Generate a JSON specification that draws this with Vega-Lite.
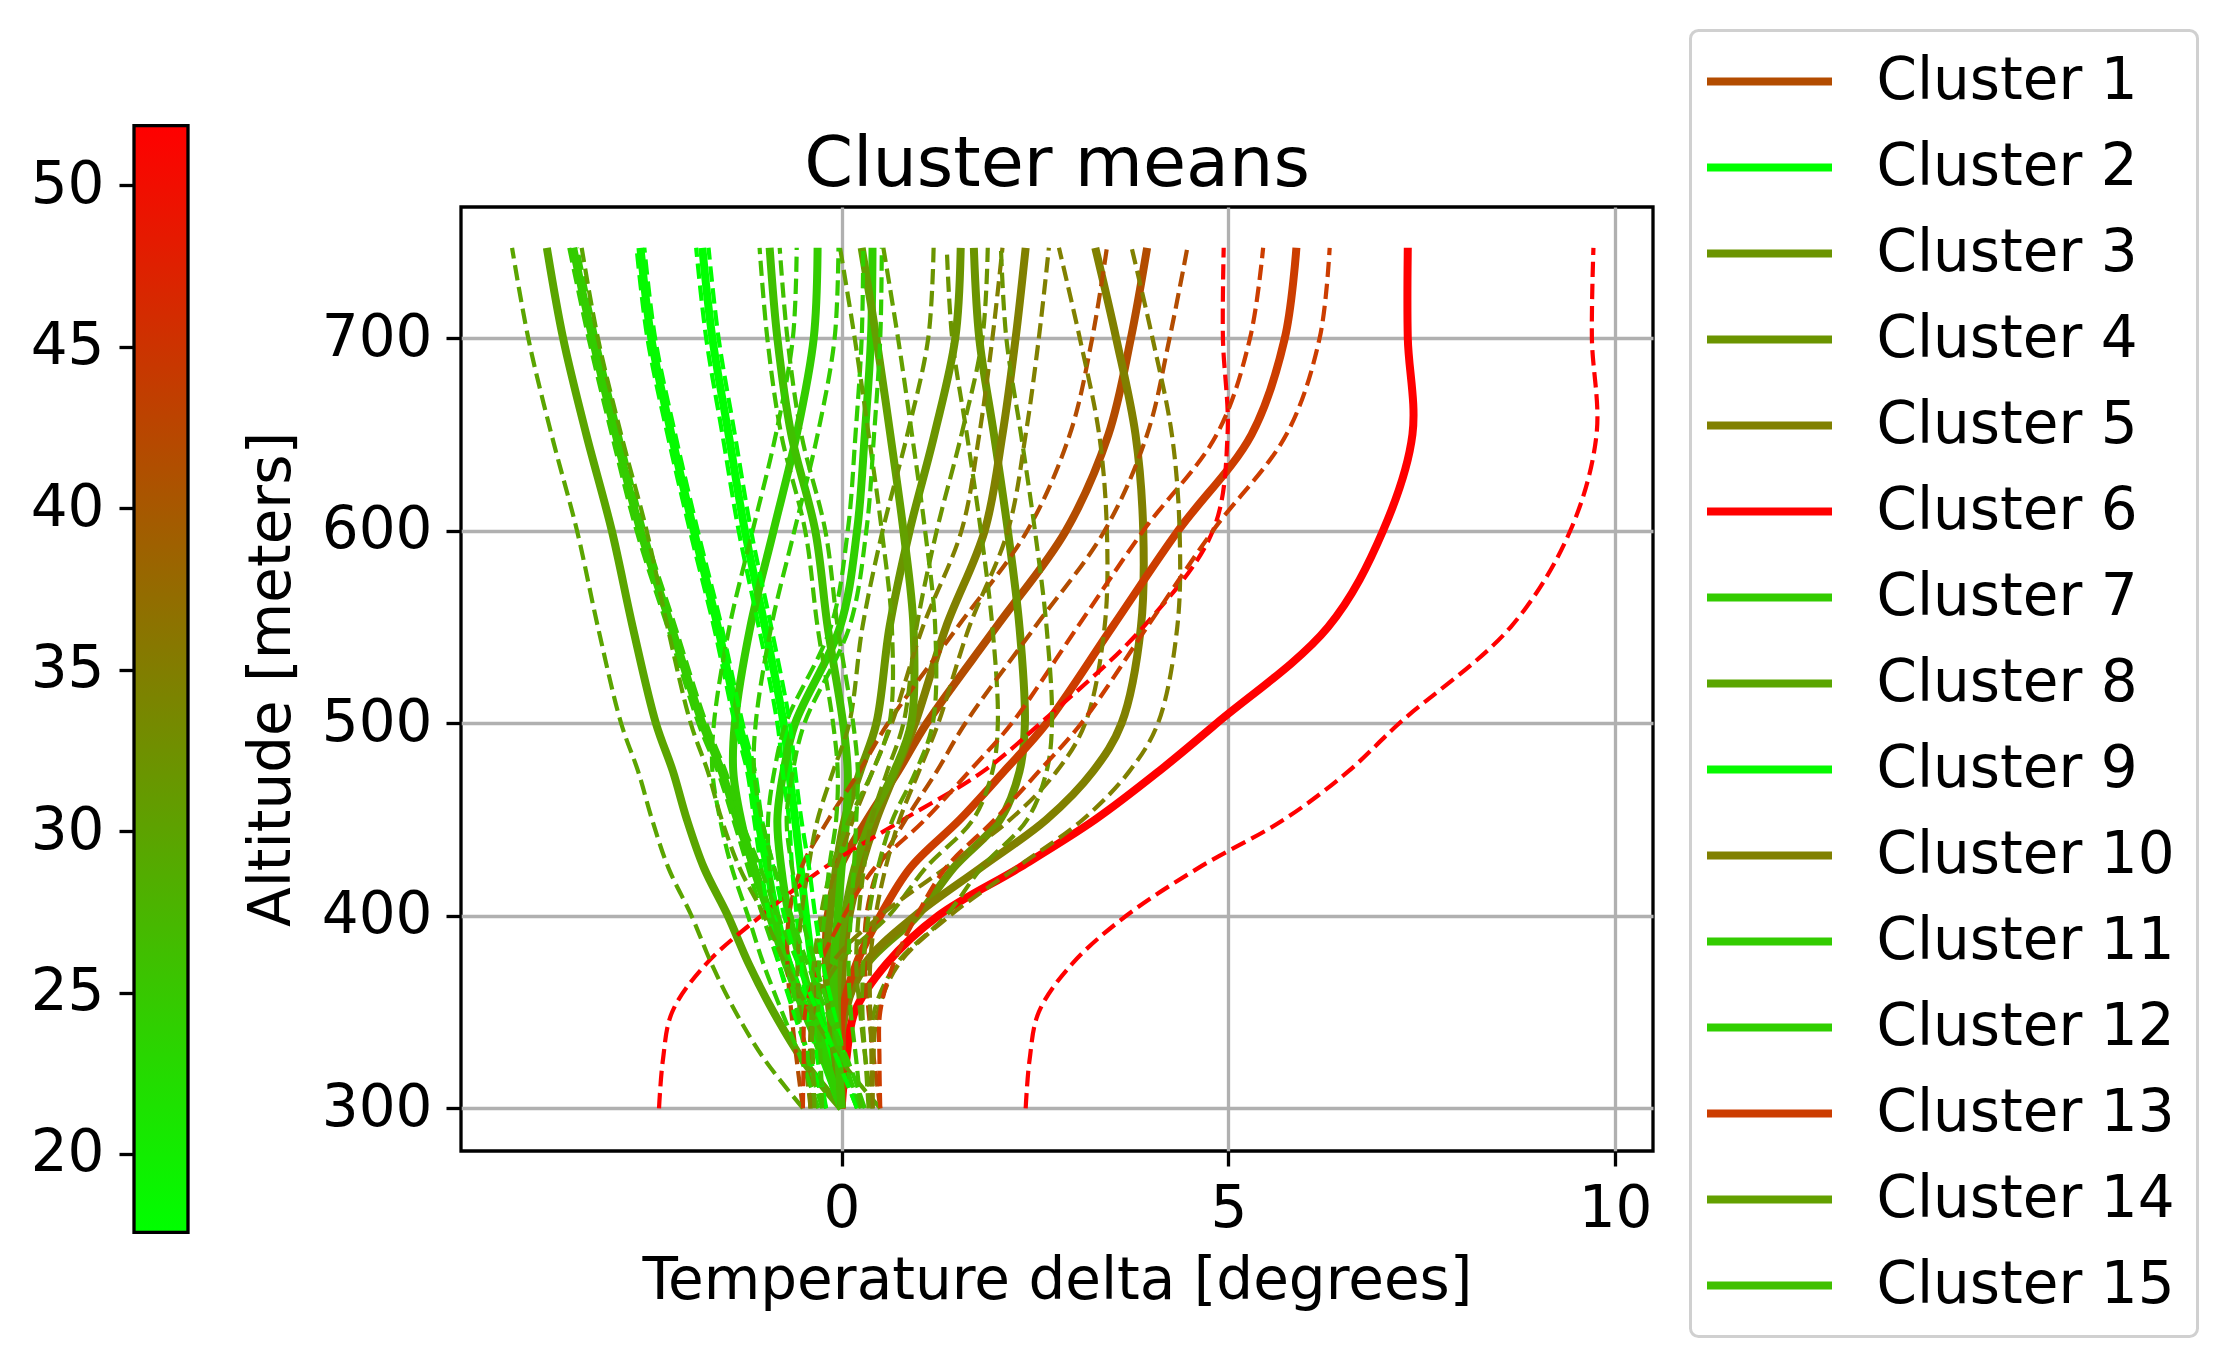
{
  "$schema": "https://vega.github.io/schema/vega-lite/v6.json",
  "padding": {"left": 30, "top": 29, "right": 20, "bottom": 20},
  "config": {
    "font": "DejaVu Sans",
    "view": {"stroke": null},
    "legend": {"strokeWidth": 3},
    "axis": {
      "labelFont": "DejaVu Sans", "titleFont": "DejaVu Sans",
      "labelFontSize": 58, "titleFontSize": 58, "titleFontWeight": "normal",
      "labelColor": "#000", "titleColor": "#000",
      "tickColor": "#000", "tickWidth": 3.3, "tickSize": 15,
      "domain": false, "gridColor": "#b0b0b0", "gridWidth": 3.3, "gridOpacity": 1,
      "labelOverlap": false, "labelFlush": false, "labelBound": false
    }
  },
  "datasets": {
    "profiles": [
      {"c":"Cluster 1","a":300,"m":0,"lo":-0.5,"hi":0.5},{"c":"Cluster 1","a":325,"m":-0.08,"lo":-0.58,"hi":0.42},{"c":"Cluster 1","a":350,"m":-0.15,"lo":-0.65,"hi":0.35},{"c":"Cluster 1","a":375,"m":-0.2,"lo":-0.7,"hi":0.3},{"c":"Cluster 1","a":400,"m":-0.18,"lo":-0.68,"hi":0.32},{"c":"Cluster 1","a":425,"m":-0.02,"lo":-0.52,"hi":0.48},{"c":"Cluster 1","a":450,"m":0.33,"lo":-0.17,"hi":0.83},{"c":"Cluster 1","a":475,"m":0.73,"lo":0.23,"hi":1.23},{"c":"Cluster 1","a":500,"m":1.1,"lo":0.6,"hi":1.6},{"c":"Cluster 1","a":550,"m":2.0,"lo":1.5,"hi":2.5},{"c":"Cluster 1","a":600,"m":2.9,"lo":2.4,"hi":3.4},{"c":"Cluster 1","a":650,"m":3.45,"lo":2.95,"hi":3.95},{"c":"Cluster 1","a":700,"m":3.74,"lo":3.24,"hi":4.24},{"c":"Cluster 1","a":747,"m":3.95,"lo":3.43,"hi":4.47},
      {"c":"Cluster 2","a":300,"m":0,"lo":-0.2,"hi":0.2},{"c":"Cluster 2","a":325,"m":-0.13,"lo":-0.31,"hi":0.05},{"c":"Cluster 2","a":350,"m":-0.27,"lo":-0.44,"hi":-0.1},{"c":"Cluster 2","a":375,"m":-0.38,"lo":-0.52,"hi":-0.24},{"c":"Cluster 2","a":400,"m":-0.46,"lo":-0.58,"hi":-0.34},{"c":"Cluster 2","a":425,"m":-0.53,"lo":-0.64,"hi":-0.42},{"c":"Cluster 2","a":450,"m":-0.6,"lo":-0.68,"hi":-0.52},{"c":"Cluster 2","a":475,"m":-0.68,"lo":-0.76,"hi":-0.6},{"c":"Cluster 2","a":500,"m":-0.75,"lo":-0.83,"hi":-0.67},{"c":"Cluster 2","a":550,"m":-0.99,"lo":-1.07,"hi":-0.91},{"c":"Cluster 2","a":600,"m":-1.25,"lo":-1.33,"hi":-1.17},{"c":"Cluster 2","a":650,"m":-1.46,"lo":-1.54,"hi":-1.38},{"c":"Cluster 2","a":700,"m":-1.67,"lo":-1.75,"hi":-1.59},{"c":"Cluster 2","a":747,"m":-1.8,"lo":-1.88,"hi":-1.72},
      {"c":"Cluster 3","a":300,"m":0,"lo":-0.4,"hi":0.4},{"c":"Cluster 3","a":325,"m":0,"lo":-0.39,"hi":0.39},{"c":"Cluster 3","a":350,"m":0.03,"lo":-0.36,"hi":0.42},{"c":"Cluster 3","a":375,"m":0.33,"lo":-0.05,"hi":0.71},{"c":"Cluster 3","a":400,"m":0.98,"lo":0.61,"hi":1.35},{"c":"Cluster 3","a":425,"m":1.45,"lo":1.09,"hi":1.81},{"c":"Cluster 3","a":450,"m":2.05,"lo":1.7,"hi":2.4},{"c":"Cluster 3","a":475,"m":2.3,"lo":1.95,"hi":2.65},{"c":"Cluster 3","a":500,"m":2.37,"lo":2.02,"hi":2.72},{"c":"Cluster 3","a":550,"m":2.3,"lo":1.95,"hi":2.65},{"c":"Cluster 3","a":600,"m":2.15,"lo":1.8,"hi":2.5},{"c":"Cluster 3","a":650,"m":1.97,"lo":1.62,"hi":2.32},{"c":"Cluster 3","a":700,"m":1.78,"lo":1.43,"hi":2.13},{"c":"Cluster 3","a":747,"m":1.71,"lo":1.36,"hi":2.06},
      {"c":"Cluster 4","a":300,"m":0,"lo":-0.4,"hi":0.4},{"c":"Cluster 4","a":325,"m":-0.08,"lo":-0.47,"hi":0.31},{"c":"Cluster 4","a":350,"m":-0.15,"lo":-0.54,"hi":0.24},{"c":"Cluster 4","a":375,"m":-0.19,"lo":-0.57,"hi":0.19},{"c":"Cluster 4","a":400,"m":-0.15,"lo":-0.52,"hi":0.22},{"c":"Cluster 4","a":425,"m":-0.07,"lo":-0.43,"hi":0.29},{"c":"Cluster 4","a":450,"m":0.04,"lo":-0.31,"hi":0.39},{"c":"Cluster 4","a":475,"m":0.24,"lo":-0.11,"hi":0.59},{"c":"Cluster 4","a":500,"m":0.45,"lo":0.1,"hi":0.8},{"c":"Cluster 4","a":550,"m":0.62,"lo":0.27,"hi":0.97},{"c":"Cluster 4","a":600,"m":0.88,"lo":0.53,"hi":1.23},{"c":"Cluster 4","a":650,"m":1.2,"lo":0.85,"hi":1.55},{"c":"Cluster 4","a":700,"m":1.47,"lo":1.12,"hi":1.82},{"c":"Cluster 4","a":747,"m":1.54,"lo":1.19,"hi":1.89},
      {"c":"Cluster 5","a":300,"m":0,"lo":-0.4,"hi":0.4},{"c":"Cluster 5","a":325,"m":0,"lo":-0.41,"hi":0.41},{"c":"Cluster 5","a":350,"m":0.05,"lo":-0.37,"hi":0.47},{"c":"Cluster 5","a":375,"m":0.3,"lo":-0.13,"hi":0.74},{"c":"Cluster 5","a":400,"m":0.95,"lo":0.5,"hi":1.4},{"c":"Cluster 5","a":425,"m":1.8,"lo":1.35,"hi":2.26},{"c":"Cluster 5","a":450,"m":2.65,"lo":2.18,"hi":3.12},{"c":"Cluster 5","a":475,"m":3.25,"lo":2.78,"hi":3.72},{"c":"Cluster 5","a":500,"m":3.62,"lo":3.15,"hi":4.09},{"c":"Cluster 5","a":550,"m":3.87,"lo":3.4,"hi":4.34},{"c":"Cluster 5","a":600,"m":3.9,"lo":3.43,"hi":4.37},{"c":"Cluster 5","a":650,"m":3.8,"lo":3.33,"hi":4.27},{"c":"Cluster 5","a":700,"m":3.55,"lo":3.08,"hi":4.02},{"c":"Cluster 5","a":747,"m":3.28,"lo":2.81,"hi":3.75},
      {"c":"Cluster 6","a":300,"m":0,"lo":-2.36,"hi":2.38},{"c":"Cluster 6","a":325,"m":0.06,"lo":-2.31,"hi":2.43},{"c":"Cluster 6","a":350,"m":0.17,"lo":-2.19,"hi":2.55},{"c":"Cluster 6","a":375,"m":0.58,"lo":-1.75,"hi":2.98},{"c":"Cluster 6","a":400,"m":1.25,"lo":-1.04,"hi":3.68},{"c":"Cluster 6","a":425,"m":2.3,"lo":-0.22,"hi":4.62},{"c":"Cluster 6","a":450,"m":3.28,"lo":0.8,"hi":5.72},{"c":"Cluster 6","a":475,"m":4.1,"lo":1.83,"hi":6.55},{"c":"Cluster 6","a":500,"m":4.85,"lo":2.57,"hi":7.21},{"c":"Cluster 6","a":550,"m":6.29,"lo":3.9,"hi":8.65},{"c":"Cluster 6","a":600,"m":7.0,"lo":4.8,"hi":9.42},{"c":"Cluster 6","a":650,"m":7.38,"lo":4.99,"hi":9.76},{"c":"Cluster 6","a":700,"m":7.32,"lo":4.93,"hi":9.7},{"c":"Cluster 6","a":747,"m":7.32,"lo":4.94,"hi":9.72},
      {"c":"Cluster 7","a":300,"m":0,"lo":-0.2,"hi":0.2},{"c":"Cluster 7","a":325,"m":-0.22,"lo":-0.4,"hi":-0.04},{"c":"Cluster 7","a":350,"m":-0.45,"lo":-0.61,"hi":-0.3},{"c":"Cluster 7","a":375,"m":-0.68,"lo":-0.81,"hi":-0.56},{"c":"Cluster 7","a":400,"m":-0.92,"lo":-1.02,"hi":-0.82},{"c":"Cluster 7","a":425,"m":-1.13,"lo":-1.21,"hi":-1.05},{"c":"Cluster 7","a":450,"m":-1.35,"lo":-1.4,"hi":-1.3},{"c":"Cluster 7","a":475,"m":-1.55,"lo":-1.6,"hi":-1.5},{"c":"Cluster 7","a":500,"m":-1.8,"lo":-1.85,"hi":-1.75},{"c":"Cluster 7","a":550,"m":-2.2,"lo":-2.25,"hi":-2.15},{"c":"Cluster 7","a":600,"m":-2.6,"lo":-2.65,"hi":-2.55},{"c":"Cluster 7","a":650,"m":-2.92,"lo":-2.97,"hi":-2.87},{"c":"Cluster 7","a":700,"m":-3.22,"lo":-3.27,"hi":-3.17},{"c":"Cluster 7","a":747,"m":-3.47,"lo":-3.52,"hi":-3.42},
      {"c":"Cluster 8","a":300,"m":0,"lo":-0.5,"hi":0.5},{"c":"Cluster 8","a":325,"m":-0.5,"lo":-0.99,"hi":-0.01},{"c":"Cluster 8","a":350,"m":-0.88,"lo":-1.37,"hi":-0.4},{"c":"Cluster 8","a":375,"m":-1.2,"lo":-1.68,"hi":-0.73},{"c":"Cluster 8","a":400,"m":-1.47,"lo":-1.94,"hi":-1.0},{"c":"Cluster 8","a":425,"m":-1.78,"lo":-2.24,"hi":-1.32},{"c":"Cluster 8","a":450,"m":-2.0,"lo":-2.45,"hi":-1.55},{"c":"Cluster 8","a":475,"m":-2.18,"lo":-2.63,"hi":-1.73},{"c":"Cluster 8","a":500,"m":-2.4,"lo":-2.85,"hi":-1.95},{"c":"Cluster 8","a":550,"m":-2.7,"lo":-3.15,"hi":-2.25},{"c":"Cluster 8","a":600,"m":-2.97,"lo":-3.42,"hi":-2.52},{"c":"Cluster 8","a":650,"m":-3.3,"lo":-3.75,"hi":-2.85},{"c":"Cluster 8","a":700,"m":-3.6,"lo":-4.05,"hi":-3.15},{"c":"Cluster 8","a":747,"m":-3.81,"lo":-4.26,"hi":-3.36},
      {"c":"Cluster 9","a":300,"m":0,"lo":-0.2,"hi":0.2},{"c":"Cluster 9","a":325,"m":-0.23,"lo":-0.41,"hi":-0.05},{"c":"Cluster 9","a":350,"m":-0.46,"lo":-0.62,"hi":-0.31},{"c":"Cluster 9","a":375,"m":-0.68,"lo":-0.81,"hi":-0.56},{"c":"Cluster 9","a":400,"m":-0.84,"lo":-0.94,"hi":-0.74},{"c":"Cluster 9","a":425,"m":-0.96,"lo":-1.04,"hi":-0.88},{"c":"Cluster 9","a":450,"m":-1.08,"lo":-1.13,"hi":-1.03},{"c":"Cluster 9","a":475,"m":-1.17,"lo":-1.22,"hi":-1.12},{"c":"Cluster 9","a":500,"m":-1.33,"lo":-1.38,"hi":-1.28},{"c":"Cluster 9","a":550,"m":-1.6,"lo":-1.65,"hi":-1.55},{"c":"Cluster 9","a":600,"m":-1.91,"lo":-1.96,"hi":-1.86},{"c":"Cluster 9","a":650,"m":-2.2,"lo":-2.25,"hi":-2.15},{"c":"Cluster 9","a":700,"m":-2.46,"lo":-2.51,"hi":-2.41},{"c":"Cluster 9","a":747,"m":-2.6,"lo":-2.65,"hi":-2.55},
      {"c":"Cluster 10","a":300,"m":0,"lo":-0.4,"hi":0.4},{"c":"Cluster 10","a":325,"m":0,"lo":-0.39,"hi":0.39},{"c":"Cluster 10","a":350,"m":0,"lo":-0.37,"hi":0.37},{"c":"Cluster 10","a":375,"m":0.02,"lo":-0.33,"hi":0.37},{"c":"Cluster 10","a":400,"m":0.1,"lo":-0.24,"hi":0.44},{"c":"Cluster 10","a":425,"m":0.25,"lo":-0.07,"hi":0.57},{"c":"Cluster 10","a":450,"m":0.45,"lo":0.15,"hi":0.75},{"c":"Cluster 10","a":475,"m":0.7,"lo":0.4,"hi":1.0},{"c":"Cluster 10","a":500,"m":0.95,"lo":0.65,"hi":1.25},{"c":"Cluster 10","a":550,"m":1.35,"lo":1.05,"hi":1.65},{"c":"Cluster 10","a":600,"m":1.85,"lo":1.55,"hi":2.15},{"c":"Cluster 10","a":650,"m":2.08,"lo":1.78,"hi":2.38},{"c":"Cluster 10","a":700,"m":2.25,"lo":1.95,"hi":2.55},{"c":"Cluster 10","a":747,"m":2.38,"lo":2.08,"hi":2.68},
      {"c":"Cluster 11","a":300,"m":0,"lo":-0.3,"hi":0.3},{"c":"Cluster 11","a":325,"m":-0.22,"lo":-0.52,"hi":0.08},{"c":"Cluster 11","a":350,"m":-0.48,"lo":-0.77,"hi":-0.19},{"c":"Cluster 11","a":375,"m":-0.72,"lo":-1.01,"hi":-0.44},{"c":"Cluster 11","a":400,"m":-0.93,"lo":-1.21,"hi":-0.65},{"c":"Cluster 11","a":425,"m":-1.14,"lo":-1.42,"hi":-0.87},{"c":"Cluster 11","a":450,"m":-1.3,"lo":-1.57,"hi":-1.03},{"c":"Cluster 11","a":475,"m":-1.4,"lo":-1.67,"hi":-1.13},{"c":"Cluster 11","a":500,"m":-1.38,"lo":-1.65,"hi":-1.11},{"c":"Cluster 11","a":550,"m":-1.18,"lo":-1.45,"hi":-0.91},{"c":"Cluster 11","a":600,"m":-0.88,"lo":-1.15,"hi":-0.61},{"c":"Cluster 11","a":650,"m":-0.58,"lo":-0.85,"hi":-0.31},{"c":"Cluster 11","a":700,"m":-0.36,"lo":-0.63,"hi":-0.09},{"c":"Cluster 11","a":747,"m":-0.31,"lo":-0.58,"hi":-0.04},
      {"c":"Cluster 12","a":300,"m":0,"lo":-0.25,"hi":0.25},{"c":"Cluster 12","a":325,"m":-0.2,"lo":-0.43,"hi":0.03},{"c":"Cluster 12","a":350,"m":-0.36,"lo":-0.57,"hi":-0.15},{"c":"Cluster 12","a":375,"m":-0.52,"lo":-0.71,"hi":-0.34},{"c":"Cluster 12","a":400,"m":-0.68,"lo":-0.85,"hi":-0.52},{"c":"Cluster 12","a":425,"m":-0.78,"lo":-0.93,"hi":-0.64},{"c":"Cluster 12","a":450,"m":-0.83,"lo":-0.95,"hi":-0.71},{"c":"Cluster 12","a":475,"m":-0.75,"lo":-0.87,"hi":-0.63},{"c":"Cluster 12","a":500,"m":-0.6,"lo":-0.72,"hi":-0.48},{"c":"Cluster 12","a":550,"m":-0.02,"lo":-0.14,"hi":0.1},{"c":"Cluster 12","a":600,"m":0.2,"lo":0.08,"hi":0.32},{"c":"Cluster 12","a":650,"m":0.3,"lo":0.18,"hi":0.42},{"c":"Cluster 12","a":700,"m":0.38,"lo":0.26,"hi":0.5},{"c":"Cluster 12","a":747,"m":0.4,"lo":0.28,"hi":0.52},
      {"c":"Cluster 13","a":300,"m":0,"lo":-0.5,"hi":0.5},{"c":"Cluster 13","a":325,"m":0,"lo":-0.49,"hi":0.49},{"c":"Cluster 13","a":350,"m":0.01,"lo":-0.47,"hi":0.5},{"c":"Cluster 13","a":375,"m":0.19,"lo":-0.28,"hi":0.67},{"c":"Cluster 13","a":400,"m":0.5,"lo":0.03,"hi":0.97},{"c":"Cluster 13","a":425,"m":0.89,"lo":0.43,"hi":1.35},{"c":"Cluster 13","a":450,"m":1.53,"lo":1.08,"hi":1.98},{"c":"Cluster 13","a":475,"m":2.1,"lo":1.65,"hi":2.55},{"c":"Cluster 13","a":500,"m":2.65,"lo":2.2,"hi":3.1},{"c":"Cluster 13","a":550,"m":3.5,"lo":3.05,"hi":3.95},{"c":"Cluster 13","a":600,"m":4.35,"lo":3.9,"hi":4.8},{"c":"Cluster 13","a":650,"m":5.3,"lo":4.85,"hi":5.75},{"c":"Cluster 13","a":700,"m":5.73,"lo":5.28,"hi":6.18},{"c":"Cluster 13","a":747,"m":5.88,"lo":5.45,"hi":6.31},
      {"c":"Cluster 14","a":300,"m":0,"lo":-0.35,"hi":0.35},{"c":"Cluster 14","a":325,"m":-0.03,"lo":-0.37,"hi":0.31},{"c":"Cluster 14","a":350,"m":-0.06,"lo":-0.39,"hi":0.27},{"c":"Cluster 14","a":375,"m":-0.04,"lo":-0.36,"hi":0.28},{"c":"Cluster 14","a":400,"m":0.04,"lo":-0.27,"hi":0.35},{"c":"Cluster 14","a":425,"m":0.17,"lo":-0.13,"hi":0.47},{"c":"Cluster 14","a":450,"m":0.38,"lo":0.1,"hi":0.66},{"c":"Cluster 14","a":475,"m":0.68,"lo":0.4,"hi":0.96},{"c":"Cluster 14","a":500,"m":0.9,"lo":0.62,"hi":1.18},{"c":"Cluster 14","a":550,"m":0.93,"lo":0.65,"hi":1.21},{"c":"Cluster 14","a":600,"m":0.8,"lo":0.52,"hi":1.08},{"c":"Cluster 14","a":650,"m":0.63,"lo":0.35,"hi":0.91},{"c":"Cluster 14","a":700,"m":0.45,"lo":0.17,"hi":0.73},{"c":"Cluster 14","a":747,"m":0.26,"lo":-0.02,"hi":0.54},
      {"c":"Cluster 15","a":300,"m":0,"lo":-0.25,"hi":0.25},{"c":"Cluster 15","a":325,"m":-0.04,"lo":-0.27,"hi":0.19},{"c":"Cluster 15","a":350,"m":-0.09,"lo":-0.3,"hi":0.12},{"c":"Cluster 15","a":375,"m":-0.1,"lo":-0.29,"hi":0.09},{"c":"Cluster 15","a":400,"m":-0.05,"lo":-0.22,"hi":0.12},{"c":"Cluster 15","a":425,"m":0.0,"lo":-0.16,"hi":0.16},{"c":"Cluster 15","a":450,"m":0.06,"lo":-0.07,"hi":0.19},{"c":"Cluster 15","a":475,"m":0.08,"lo":-0.05,"hi":0.21},{"c":"Cluster 15","a":500,"m":0.02,"lo":-0.11,"hi":0.15},{"c":"Cluster 15","a":550,"m":-0.18,"lo":-0.31,"hi":-0.05},{"c":"Cluster 15","a":600,"m":-0.34,"lo":-0.47,"hi":-0.21},{"c":"Cluster 15","a":650,"m":-0.65,"lo":-0.78,"hi":-0.52},{"c":"Cluster 15","a":700,"m":-0.83,"lo":-0.96,"hi":-0.7},{"c":"Cluster 15","a":747,"m":-0.93,"lo":-1.06,"hi":-0.8}
    ]
  },
  "spacing": 51,
  "hconcat": [
    {
      "width": 54,
      "height": 1025,
      "data": {"values": [{"lo": 17.57, "hi": 51.85}]},
      "mark": {
        "type": "rect",
        "stroke": "black",
        "strokeWidth": 3.3,
        "fill": {
          "gradient": "linear", "x1": 0, "y1": 1, "x2": 0, "y2": 0,
          "stops": [{"offset": 0, "color": "#00ff00"}, {"offset": 1, "color": "#ff0000"}]
        }
      },
      "encoding": {
        "x": {"datum": 0, "type": "quantitative", "scale": {"domain": [0, 1]}, "axis": null},
        "x2": {"datum": 1},
        "y": {
          "field": "lo", "type": "quantitative",
          "scale": {"domain": [17.57, 51.85], "range": [1025.4, -81.4], "nice": false, "zero": false},
          "axis": {"values": [20, 25, 30, 35, 40, 45, 50], "grid": false, "title": null, "labelPadding": 15}
        },
        "y2": {"field": "hi"}
      }
    },
    {
      "width": 1192,
      "height": 944,
      "view": {"stroke": "black", "strokeWidth": 3.3},
      "title": {"text": "Cluster means", "fontSize": 70, "fontWeight": "normal", "font": "DejaVu Sans", "color": "#000", "baseline": "alphabetic", "offset": -49},
      "data": {"name": "profiles"},
      "encoding": {
        "y": {
          "field": "a", "type": "quantitative",
          "scale": {"domain": [277.8, 768.2], "nice": false, "zero": false},
          "axis": {"values": [300, 400, 500, 600, 700], "title": "Altitude [meters]", "labelPadding": 14, "titlePadding": 20}
        },
        "order": {"field": "a", "type": "quantitative"}
      },
      "layer": [
        {
          "mark": {"type": "line", "strokeWidth": 8, "interpolate": "catmull-rom"},
          "encoding": {
            "x": {
              "field": "m", "type": "quantitative",
              "scale": {"domain": [-4.92, 10.49], "nice": false, "zero": false},
              "axis": {"values": [0, 5, 10], "format": "d", "title": "Temperature delta [degrees]", "labelPadding": 14, "titlePadding": 14}
            },
            "color": {
              "field": "c", "type": "nominal",
              "scale": {
                "domain": ["Cluster 1","Cluster 2","Cluster 3","Cluster 4","Cluster 5","Cluster 6","Cluster 7","Cluster 8","Cluster 9","Cluster 10","Cluster 11","Cluster 12","Cluster 13","Cluster 14","Cluster 15"],
                "range": ["#b34c00","#00ff00","#6b9400","#6b9400","#808000","#ff0000","#33cc00","#5aa500","#05fa00","#808000","#33cc00","#30cf00","#cc3d00","#63a000","#40c000"]
              },
              "legend": {
                "orient": "none", "legendX": 1556.5, "legendY": -176.5, "title": null,
                "symbolType": "M-2.5,0H2.5", "symbolSize": 2500, "symbolStrokeWidth": 8,
                "symbolOffset": 28, "labelOffset": 78, "labelFontSize": 58, "labelFont": "DejaVu Sans",
                "labelColor": "#000", "labelLimit": 0, "rowPadding": 28, "padding": 22,
                "strokeColor": "#d0d0d0", "cornerRadius": 8, "fillColor": "#ffffff"
              }
            }
          }
        },
        {
          "mark": {"type": "line", "strokeWidth": 4.2, "strokeDash": [15.4, 6.7], "interpolate": "catmull-rom"},
          "encoding": {
            "x": {"field": "lo", "type": "quantitative"},
            "color": {"field": "c", "type": "nominal"}
          }
        },
        {
          "mark": {"type": "line", "strokeWidth": 4.2, "strokeDash": [15.4, 6.7], "interpolate": "catmull-rom"},
          "encoding": {
            "x": {"field": "hi", "type": "quantitative"},
            "color": {"field": "c", "type": "nominal"}
          }
        }
      ]
    }
  ]
}
